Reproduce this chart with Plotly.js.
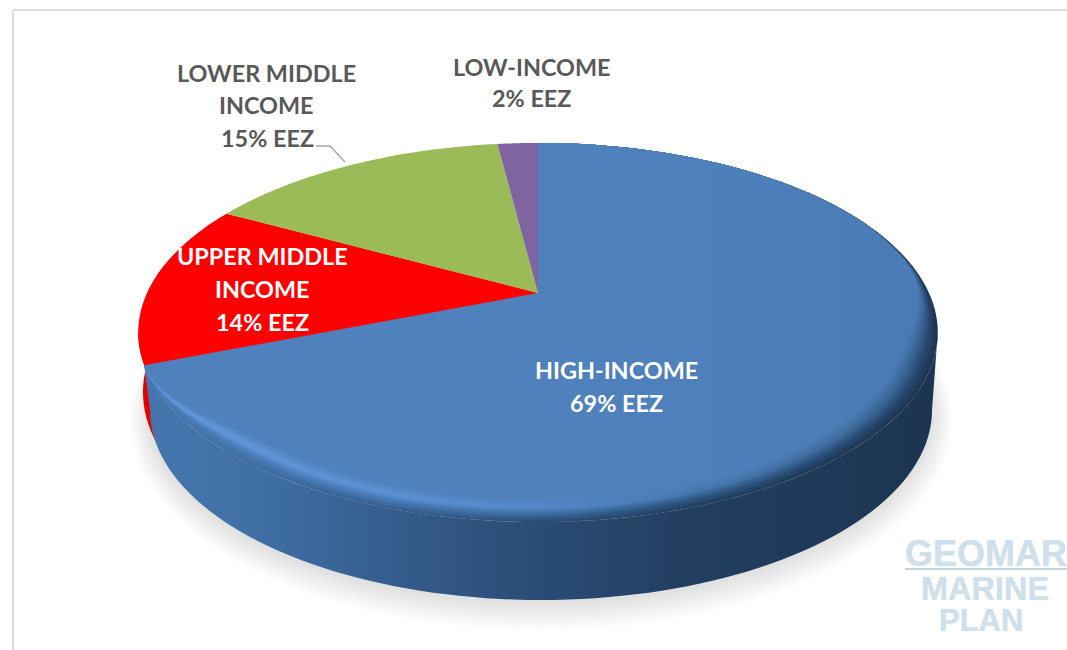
<!DOCTYPE html>
<html>
<head>
<meta charset="utf-8">
<script src="https://cdn.plot.ly/plotly-3.0.1.min.js"></script>
<style>html,body{margin:0;padding:0;background:#fff}</style>
</head>
<body>
<div id="chart" style="width:1067px;height:650px"></div>
<script>
// ---- data (clockwise from 12 o'clock) ----
var categories = ['HIGH-INCOME', 'UPPER MIDDLE INCOME', 'LOWER MIDDLE INCOME', 'LOW-INCOME'];
var shares     = [69, 14, 15, 2];
var sliceColors = ['#4f81bd', '#ff0000', '#9bbb59', '#8064a2'];
var labelLines = [['HIGH-INCOME'], ['UPPER MIDDLE', 'INCOME'], ['LOWER MIDDLE', 'INCOME'], ['LOW-INCOME']];
var labelColors = ['#ffffff', '#ffffff', '#595959', '#595959'];
var labelCx = [616, 262, 266, 532];
var labelLineY = [[370, 403], [256, 289, 322], [73, 105, 138], [67, 98]];
var labelShareCx = [616, 262, 267, 531];

// ---- projection of the tilted disc ----
var cx = 538, cy = 293, B = 391, A = 181.3, k = 0.2084;
function proj(r, deg) {
  var t = deg * Math.PI / 180, u = r * Math.sin(t), v = r * Math.cos(t), w = 1 + k * v;
  return [cx + B * u / w, cy - A * v / w];
}
var bottom = {cx: 541, cy: 410, rx: 391, ry: 190};
function bottomPt(deg, grow, dy) {
  var t = deg * Math.PI / 180;
  return [bottom.cx + (bottom.rx + (grow||0)) * Math.sin(t), bottom.cy + (dy||0) - (bottom.ry + (grow||0)) * Math.cos(t)];
}
var total = shares.reduce(function (a, b) { return a + b; }, 0);
var angles = [0];
shares.forEach(function (s, i) { angles.push(angles[i] + s / total * 360); });

function range(a, b, n) { var o = []; for (var i = 0; i <= n; i++) o.push(a + (b - a) * i / n); return o; }
function smooth(x) { x = Math.max(0, Math.min(1, x)); return x * x * (3 - 2 * x); }
function hex(c) { return [1,3,5].map(function (i) { return parseInt(c.substr(i, 2), 16); }); }
function mix(a, b, t) {
  var p = hex(a), q = hex(b);
  return 'rgb(' + p.map(function (x, i) { return Math.round(x + (q[i] - x) * t); }).join(',') + ')';
}

var traces = [];
function poly(pts, extra) {
  var tr = {type: 'scatter', mode: 'none', x: pts.map(function (p) { return p[0]; }), y: pts.map(function (p) { return p[1]; }),
    fill: 'toself', hoverinfo: 'skip', showlegend: false};
  for (var key in extra) tr[key] = extra[key];
  traces.push(tr);
}

// soft shadow below the disc
range(0, 1, 9).forEach(function (t) {
  var g = 20 - 19 * t;
  poly(range(0, 360, 120).map(function (d) { return bottomPt(d, g, 3 + 7 * (1 - t)); }), {fillcolor: 'rgba(90,90,90,0.017)'});
});

// red side wall, then blue side wall
var endBlue = angles[1];
poly(range(endBlue, 258, 10).map(function (d) { return proj(1, d); })
  .concat(range(285, 255, 16).map(function (d) { return bottomPt(d, 7, -18); })), {fillcolor: '#e60000'});
var wallRight = 102;
var wallStops = [[0, '#4577ae'], [0.15, '#3f6fa5'], [0.31, '#355d8d'], [0.5, '#2a4c74'], [0.68, '#223f61'], [1, '#1c3450']];
poly(range(wallRight, endBlue, 90).map(function (d) { return proj(1, d); })
  .concat(range(270, 90, 90).map(function (d) { return bottomPt(d); })),
  {fillgradient: {type: 'horizontal', start: 140, stop: 938, colorscale: wallStops}});

// bevelled rim of the blue slice: nested sectors, outermost first
var rimX = [0, 0.3, 0.5, 0.7, 1];
var rimKeys = [
  [0.00, ['#4577ae', '#365f90', '#2a4c74', '#213e5f', '#1c3450']],
  [0.30, ['#4a7eba', '#4678b2', '#3a6a9e', '#2c5480', '#27456c']],
  [0.60, ['#639ade', '#5c94d8', '#5489c8', '#4577ad', '#37618f']],
  [1.00, ['#4f81bd', '#4f81bd', '#4f81bd', '#4e80bb', '#4a7ab3']]
];
function rimColors(t) {
  var i = 0;
  while (i < rimKeys.length - 2 && t > rimKeys[i + 1][0]) i++;
  var a = rimKeys[i], b = rimKeys[i + 1], f = (t - a[0]) / (b[0] - a[0]);
  return rimX.map(function (x, j) { return [x, mix(a[1][j], b[1][j], f)]; });
}
var rimDepth = 0.078;
function rimR(deg, t) {
  var v = Math.cos(deg * Math.PI / 180);
  var f = 0.12 * smooth((0.5 - v) / 0.3) + 0.88 * smooth((0.2 - v) / 0.6);
  f *= smooth((endBlue - deg) / 30);
  return 1 - rimDepth * t * f;
}
function blueSector(t) {
  return [[cx, cy]].concat(range(angles[0], endBlue, 160).map(function (d) { return proj(rimR(d, t), d); }));
}
range(0, 1, 14).forEach(function (t) {
  poly(blueSector(t), {fillgradient: {type: 'horizontal', start: 140, stop: 938, colorscale: rimColors(t)}});
});

// remaining slices on the top face
shares.forEach(function (s, i) {
  if (i === 0) return;
  poly([[cx, cy]].concat(range(angles[i], angles[i + 1], 40).map(function (d) { return proj(1, d); })), {fillcolor: sliceColors[i]});
});

// leader line of the lower-middle label
traces.push({type: 'scatter', mode: 'lines', x: [316, 330, 345], y: [146, 146, 162],
  line: {color: '#a6a6a6', width: 1.5}, hoverinfo: 'skip', showlegend: false});

// frame and watermark rule
var shapes = [
  {type: 'line', x0: 13, x1: 1067, y0: 10, y1: 10, line: {color: '#dcdcdc', width: 2}},
  {type: 'line', x0: 13, x1: 13, y0: 10, y1: 650, line: {color: '#dcdcdc', width: 2}},
  {type: 'line', x0: 905, x1: 1067, y0: 569, y1: 569, line: {color: '#a9c3d8', width: 1.5}}
];

var annotations = [];
function note(text, x, y, size, color, family, shadow) {
  var font = {family: family || 'Lato', size: size, color: color};
  if (shadow) font.shadow = shadow;
  annotations.push({text: text, x: x, y: y, xref: 'x', yref: 'y', showarrow: false, xanchor: 'center', yanchor: 'middle', font: font});
}
shares.forEach(function (s, i) {
  var ys = labelLineY[i];
  labelLines[i].forEach(function (line, j) { note('<b>' + line + '</b>', labelCx[i], ys[j], 23.4, labelColors[i]); });
  note('<b>' + s + '% EEZ</b>', labelShareCx[i], ys[ys.length - 1], 23.4, labelColors[i]);
});
var wmLines = ['GEOMAR', 'MARINE', 'PLAN'];
var wmPos = [[986, 553, 36], [985, 588.5, 32.5], [981, 620.5, 31]];
wmLines.forEach(function (w, i) {
  note('<b>' + w + '</b>', wmPos[i][0], wmPos[i][1], wmPos[i][2], '#cfe0ec', 'Liberation Sans', '0 0 1px #cfe0ec');
});

Plotly.newPlot('chart', traces, {
  width: 1067, height: 650, autosize: false,
  margin: {l: 0, r: 0, t: 0, b: 0, pad: 0},
  paper_bgcolor: '#ffffff', plot_bgcolor: '#ffffff',
  showlegend: false, hovermode: false,
  xaxis: {range: [0, 1067], visible: false, fixedrange: true},
  yaxis: {range: [650, 0], visible: false, fixedrange: true},
  shapes: shapes, annotations: annotations
}, {displayModeBar: false, staticPlot: true});
</script>
</body>
</html>
